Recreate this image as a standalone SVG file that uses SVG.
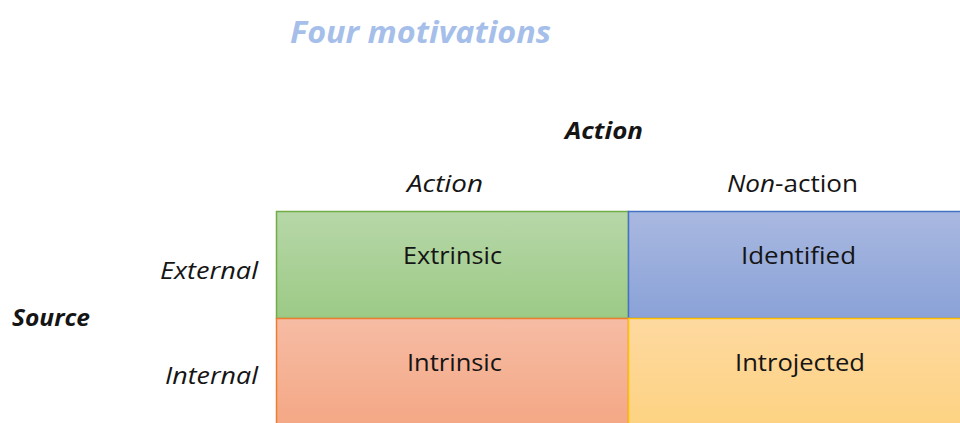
<svg xmlns="http://www.w3.org/2000/svg" width="960" height="423" viewBox="0 0 960 423">
  <defs>
    <linearGradient id="gGreen" x1="0" y1="0" x2="0" y2="1">
      <stop offset="0" stop-color="#b7d7a8"/>
      <stop offset="1" stop-color="#9cca86"/>
    </linearGradient>
    <linearGradient id="gBlue" x1="0" y1="0" x2="0" y2="1">
      <stop offset="0" stop-color="#a9b8e0"/>
      <stop offset="1" stop-color="#8aa2d8"/>
    </linearGradient>
    <linearGradient id="gOrange" x1="0" y1="0" x2="0" y2="1">
      <stop offset="0" stop-color="#f6bca4"/>
      <stop offset="1" stop-color="#f4a683"/>
    </linearGradient>
    <linearGradient id="gYellow" x1="0" y1="0" x2="0" y2="1">
      <stop offset="0" stop-color="#fed9a0"/>
      <stop offset="1" stop-color="#fdd280"/>
    </linearGradient>
  </defs>
  <style>
    text { font-family: "Open Sans", "Noto Sans", sans-serif; fill: #151515; }
    .cell { font-size: 24px; text-anchor: middle; }
    .head { font-size: 24px; font-style: italic; }
    .axis { font-size: 24px; font-style: italic; font-weight: bold; }
    .title { font-size: 30px; font-style: italic; font-weight: bold; fill: #a6bfea; }
  </style>
  <rect width="960" height="423" fill="#ffffff"/>

  <text class="title" x="290" y="43" textLength="261" lengthAdjust="spacingAndGlyphs">Four motivations</text>

  <text class="axis" x="565" y="139" textLength="78" lengthAdjust="spacingAndGlyphs">Action</text>
  <text class="head" x="407" y="192" textLength="76" lengthAdjust="spacingAndGlyphs">Action</text>
  <text class="head" x="727" y="192" textLength="131" lengthAdjust="spacingAndGlyphs">Non<tspan font-style="normal">-action</tspan></text>

  <text class="axis" x="12" y="326" textLength="78" lengthAdjust="spacingAndGlyphs">Source</text>
  <text class="head" x="160" y="279" textLength="98" lengthAdjust="spacingAndGlyphs">External</text>
  <text class="head" x="165" y="384" textLength="93" lengthAdjust="spacingAndGlyphs">Internal</text>

  <g id="extrinsic">
    <rect x="276.5" y="211.5" width="352" height="107" fill="url(#gGreen)" stroke="#70ad47" stroke-width="1.5"/>
    <text class="cell" x="452.5" y="264" textLength="99" lengthAdjust="spacingAndGlyphs">Extrinsic</text>
  </g>
  <g id="identified">
    <rect x="628.5" y="211.5" width="340" height="107" fill="url(#gBlue)" stroke="#4472c4" stroke-width="1.5"/>
    <text class="cell" x="798.5" y="264" textLength="115" lengthAdjust="spacingAndGlyphs">Identified</text>
  </g>
  <g id="intrinsic">
    <rect x="276.5" y="318.5" width="352" height="115" fill="url(#gOrange)" stroke="#ed7d31" stroke-width="1.5"/>
    <text class="cell" x="454.5" y="371" textLength="95" lengthAdjust="spacingAndGlyphs">Intrinsic</text>
  </g>
  <g id="introjected">
    <rect x="628.5" y="318.5" width="340" height="115" fill="url(#gYellow)" stroke="#ffc000" stroke-width="1.5"/>
    <text class="cell" x="800" y="371" textLength="130" lengthAdjust="spacingAndGlyphs">Introjected</text>
  </g>
</svg>
